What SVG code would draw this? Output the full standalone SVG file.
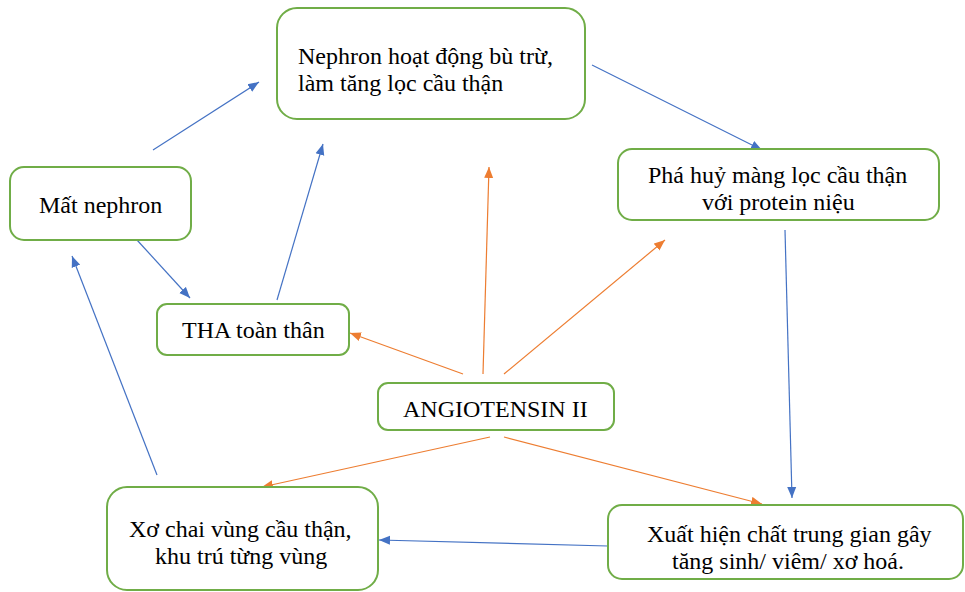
<svg xmlns="http://www.w3.org/2000/svg" width="965" height="592" viewBox="0 0 965 592">
<defs>
<marker id="ab" markerUnits="userSpaceOnUse" markerWidth="12" markerHeight="10" refX="11" refY="5" orient="auto"><path d="M0,0.5 L11,5 L0,9.5 z" fill="#4472C4"/></marker>
<marker id="ao" markerUnits="userSpaceOnUse" markerWidth="12" markerHeight="10" refX="11" refY="5" orient="auto"><path d="M0,0.5 L11,5 L0,9.5 z" fill="#ED7D31"/></marker>
</defs>
<rect width="965" height="592" fill="#fff"/>
<g id="connectors" fill="none" stroke-width="1.2">
<g stroke="#4472C4" marker-end="url(#ab)">
<line x1="153" y1="150" x2="259" y2="82"/>
<line x1="277" y1="300" x2="323" y2="144"/>
<line x1="592" y1="65" x2="762" y2="150"/>
<line x1="137" y1="240" x2="190" y2="298"/>
<line x1="157" y1="475" x2="72" y2="256"/>
<line x1="785" y1="230" x2="792" y2="498"/>
<line x1="608" y1="546" x2="379" y2="540"/>
</g>
<g stroke="#ED7D31" marker-end="url(#ao)">
<line x1="463" y1="374" x2="350" y2="333"/>
<line x1="483" y1="374" x2="489" y2="167"/>
<line x1="504" y1="374" x2="665" y2="240"/>
<line x1="490" y1="437" x2="262" y2="487"/>
<line x1="504" y1="437" x2="762" y2="504"/>
</g>
</g>
<g id="n1"><rect x="277" y="8" width="308" height="111" rx="20" fill="#fff" stroke="#70AD47" stroke-width="2"/>
<text x="298" y="64" font-family="Liberation Serif" font-size="24">Nephron hoạt động bù trừ,</text>
<text x="298" y="91" font-family="Liberation Serif" font-size="24">làm tăng lọc cầu thận</text></g>
<g id="n2"><rect x="618" y="149" width="321" height="71" rx="14" fill="#fff" stroke="#70AD47" stroke-width="2"/>
<text x="648" y="183" font-family="Liberation Serif" font-size="24">Phá huỷ màng lọc cầu thận</text>
<text x="702" y="210" font-family="Liberation Serif" font-size="24">với protein niệu</text></g>
<g id="n3"><rect x="10" y="167" width="181" height="73" rx="14" fill="#fff" stroke="#70AD47" stroke-width="2"/>
<text x="39" y="213" font-family="Liberation Serif" font-size="24">Mất nephron</text></g>
<g id="n4"><rect x="157" y="304" width="192" height="51" rx="10" fill="#fff" stroke="#70AD47" stroke-width="2"/>
<text x="182" y="338" font-family="Liberation Serif" font-size="24">THA toàn thân</text></g>
<g id="n5"><rect x="378" y="383" width="236" height="47" rx="10" fill="#fff" stroke="#70AD47" stroke-width="2"/>
<text x="403" y="417" font-family="Liberation Serif" font-size="24">ANGIOTENSIN II</text></g>
<g id="n6"><rect x="107" y="487" width="271" height="103" rx="20" fill="#fff" stroke="#70AD47" stroke-width="2"/>
<text x="129" y="537" font-family="Liberation Serif" font-size="24">Xơ chai vùng cầu thận,</text>
<text x="155" y="564" font-family="Liberation Serif" font-size="24">khu trú từng vùng</text></g>
<g id="n7"><rect x="608" y="505" width="355" height="74" rx="14" fill="#fff" stroke="#70AD47" stroke-width="2"/>
<text x="647" y="542" font-family="Liberation Serif" font-size="24">Xuất hiện chất trung gian gây</text>
<text x="672" y="569" font-family="Liberation Serif" font-size="24">tăng sinh/ viêm/ xơ hoá.</text></g>
</svg>
